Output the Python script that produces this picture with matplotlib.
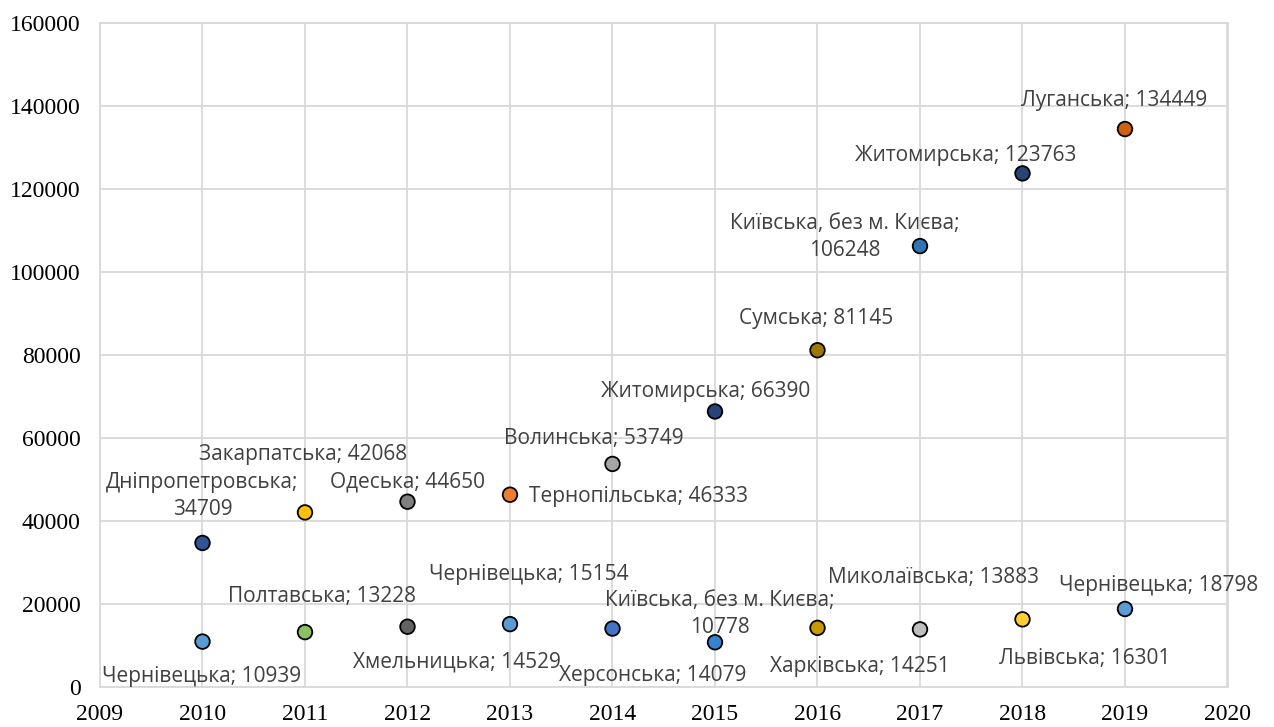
import matplotlib
matplotlib.use('Agg')
import matplotlib.pyplot as plt

years = [2010, 2011, 2012, 2013, 2014, 2015, 2016, 2017, 2018, 2019]

# максимальні значення за рік
top_regions = ['Дніпропетровська', 'Закарпатська', 'Одеська', 'Тернопільська', 'Волинська',
               'Житомирська', 'Сумська', 'Київська, без м. Києва', 'Житомирська', 'Луганська']
top_values = [34709, 42068, 44650, 46333, 53749, 66390, 81145, 106248, 123763, 134449]
top_colors = ['#2F5597', '#FFC000', '#7F7F7F', '#ED7D31', '#A5A5A5',
              '#264478', '#9E7700', '#2E75B6', '#264478', '#D0620F']

# мінімальні значення за рік
low_regions = ['Чернівецька', 'Полтавська', 'Хмельницька', 'Чернівецька', 'Херсонська',
               'Київська, без м. Києва', 'Харківська', 'Миколаївська', 'Львівська', 'Чернівецька']
low_values = [10939, 13228, 14529, 15154, 14079, 10778, 14251, 13883, 16301, 18798]
low_colors = ['#5B9BD5', '#8CC063', '#636363', '#5B9BD5', '#4472C4',
              '#3384D1', '#C99A00', '#BFBFBF', '#FFCC33', '#5B9BD5']

# зміщення підписів (пікселі) та перенос рядка
top_offsets = [(0, 47), (-2, 58), (0, 20), (19, -2), (-19, 25),
               (-9, 20), (-1, 32), (-75, 9), (-57, 18), (-11, 29)]
top_wrap = [True, False, False, False, False, False, False, True, False, False]
low_offsets = [(-1, -35), (17, 36), (49, -35), (19, 50), (40, -47),
               (5, 28), (42, -39), (14, 52), (62, -39), (34, 23)]
low_wrap = [False, False, False, False, False, True, False, False, False, False]

fig = plt.figure(figsize=(12.74, 7.27), dpi=100)
ax = fig.add_axes([100 / 1274, 1 - 687 / 727, 1127.5 / 1274, 664 / 727])

ax.scatter(years, top_values, s=110, c=top_colors, edgecolors='black', linewidths=1.3, zorder=3)
ax.scatter(years, low_values, s=110, c=low_colors, edgecolors='black', linewidths=1.3, zorder=3)

label_font = ['Open Sans', 'DejaVu Sans']


def put_labels(regions, values, offsets, wraps):
    for x, name, v, off, w in zip(years, regions, values, offsets, wraps):
        sep = ';\n' if w else '; '
        ha = 'center'
        if off == (19, -2):
            ha = 'left'
        ax.annotate(name + sep + str(v), (x, v), xytext=off, textcoords='offset pixels',
                    ha=ha, va='center', multialignment='center', fontsize=15,
                    family=label_font, color='#404040', linespacing=1.4, zorder=4)


put_labels(top_regions, top_values, top_offsets, top_wrap)
put_labels(low_regions, low_values, low_offsets, low_wrap)

ax.set_xlim(2009, 2020)
ax.set_ylim(0, 160000)
ax.set_xticks(range(2009, 2021))
ax.set_yticks(range(0, 160001, 20000))
ax.grid(True, color='#D9D9D9', linewidth=1.3)
ax.set_axisbelow(True)
for s in ax.spines.values():
    s.set_color('#D9D9D9')
    s.set_linewidth(1.3)
ax.tick_params(length=0, labelsize=17, colors='black')
ax.tick_params(axis='y', pad=14)
ax.tick_params(axis='x', pad=12)
for lab in ax.get_xticklabels() + ax.get_yticklabels():
    lab.set_family('Liberation Serif')

fig.savefig('out.png', dpi=100)
